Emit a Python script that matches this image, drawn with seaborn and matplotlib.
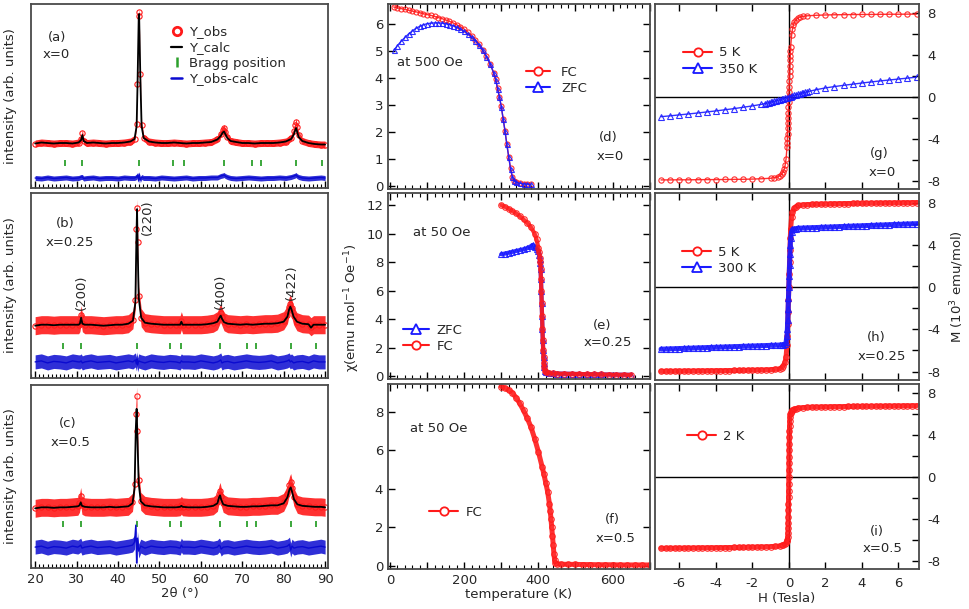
import matplotlib
matplotlib.use('Agg')
import matplotlib.pyplot as plt
import seaborn as sns
import numpy as np
from matplotlib.lines import Line2D
from matplotlib.ticker import MultipleLocator

sns.set_style('ticks')
plt.rcParams['font.family'] = ['DejaVu Sans']
plt.rcParams['axes.unicode_minus'] = False
plt.rcParams['mathtext.default'] = 'regular'
FS = 9.5

# ---------------- XRD data (intensity in arbitrary units) ----------------
tt_a = [20, 21.5, 23, 24.5, 26, 27.5, 29, 30.5, 31.1, 31.4,
        31.7, 32.5, 34, 35.5, 37, 38.5, 40, 41.5, 43, 44.0,
        44.5, 44.7, 45.0, 45.1, 45.4, 45.7, 46.2, 47.5, 49, 50.5,
        52, 53.5, 55, 56.5, 58, 59.5, 61, 62.5, 64.0, 64.8,
        65.3, 65.6, 65.9, 66.4, 67.2, 68.5, 70, 71.5, 73, 74.5,
        76, 77.5, 79, 80.5, 81.8, 82.5, 82.8, 83.0, 83.2, 83.6,
        84.5, 86, 87.5, 89, 90]
calc_a = [44.5, 45.5, 45, 44.5, 45, 45, 44.5, 45.5, 48, 53,
          47, 45, 45.5, 45, 44.5, 45, 45, 45.5, 46.5, 49,
          62, 100, 170, 174, 110, 62, 50, 46.5, 45.5, 45,
          45, 45.5, 45, 44.5, 45, 45, 45.5, 46, 48.5, 52,
          55.5, 56.5, 54, 50, 47, 46, 45, 45, 44.5, 45,
          45, 45, 45.5, 46.5, 49, 54, 58, 60, 57, 51,
          47, 45, 44, 43.5, 43.5]
obs_a = [44.5, 45.5, 45, 44.5, 45, 45, 44.5, 45.5, 49, 55,
         47, 45, 45.5, 45, 44.5, 45, 45, 45.5, 46.5, 49,
         64, 104, 172, 176, 114, 63, 50, 46.5, 45.5, 45,
         45, 45.5, 45, 44.5, 45, 45, 45.5, 46, 49, 54,
         58, 60, 56, 51, 47, 46, 45, 45, 44.5, 45,
         45, 45, 45.5, 46.5, 50, 57, 63, 66, 61, 53,
         47, 45, 44, 43.5, 43.5]
diff_a = [10, 9.5, 10.5, 9.5, 10, 10.5, 9.5, 10, 11, 11,
          9.5, 10, 10.5, 9.5, 10, 10, 9.5, 10.5, 10, 10,
          11, 13, 7, 14, 8, 11, 10, 10, 9.5, 10.5,
          10, 9.5, 10, 10.5, 9.5, 10, 10, 10.5, 10.5, 12,
          12.5, 13, 12, 11, 10, 9.5, 10, 10.5, 10, 9.5,
          10, 10, 10.5, 10, 11, 12, 12.5, 13, 12, 11,
          10, 9.5, 10, 10.5, 10]
bragg_a = [27.2, 31.4, 45.1, 53.4, 56.0, 65.6, 72.4, 74.6, 83.0, 89.2]

tt_b = [20, 21.5, 23, 24.5, 26, 27.5, 29, 30.5, 30.8, 31.1,
        31.4, 32, 33.5, 35, 36.5, 38, 39.5, 41, 42.5, 43.6,
        44.2, 44.45, 44.6, 44.75, 45.0, 45.6, 46.5, 48, 49.5, 51,
        52.5, 54, 55.0, 55.3, 55.6, 57, 58.5, 60, 61.5, 63,
        64.0, 64.5, 64.8, 65.1, 65.6, 66.5, 68, 69.5, 71, 72.5,
        74, 75.5, 77, 78.5, 80, 80.9, 81.3, 81.6, 81.9, 82.4,
        83.2, 84.5, 86, 86.6, 87.2, 88.5, 90]
calc_b = [52, 53, 53, 52.5, 53, 53, 53, 53, 54, 60,
          54, 53, 53, 52.5, 52, 52.5, 53, 53, 54, 57,
          75, 140, 168, 130, 80, 60, 55, 54, 53.5, 53,
          53, 53, 53, 56, 53, 53, 53, 53, 53.5, 54.5,
          56, 60, 62, 59, 55.5, 54, 53.5, 53, 53.5, 53,
          53.5, 54, 54, 54.5, 56, 61, 68, 71, 68, 61,
          56, 54, 53.5, 50, 53, 53, 53]
obs_b = [52, 53, 53, 52.5, 53, 53, 53, 53, 55, 63,
         55, 53, 53, 52.5, 52, 52.5, 53, 53, 54, 58,
         78, 148, 169, 135, 82, 60, 55, 54, 53.5, 53,
         53, 53, 53, 57, 53, 53, 53, 53, 53.5, 54.5,
         57, 62, 65, 61, 56, 54, 53.5, 53, 53.5, 53,
         53.5, 54, 54, 54.5, 57, 63, 71, 74, 70, 62,
         56, 54, 53.5, 51, 53, 53, 53]
diff_b = [16, 17, 15, 16.5, 16, 15, 17, 16, 16, 17,
          15, 16, 17, 15.5, 16, 16.5, 15, 16, 17, 16,
          18, 14, 19, 13, 17, 16, 15, 17, 16, 15.5,
          16.5, 16, 15, 17, 16, 16, 15.5, 17, 16, 15,
          16, 17, 18, 15, 16, 16.5, 15, 16, 17, 16,
          15.5, 16, 17, 15, 16, 17, 18, 16, 17, 15,
          16, 16.5, 15, 16, 17, 16, 16]
bragg_b = [26.8, 31.1, 44.6, 52.6, 55.2, 64.7, 71.2, 73.4, 81.8, 87.9]

tt_c = [20, 21.5, 23, 24.5, 26, 27.5, 29, 30.3, 30.7, 31.0,
        31.3, 32, 33.5, 35, 36.5, 38, 39.5, 41, 42.5, 43.5,
        44.0, 44.3, 44.5, 44.7, 45.0, 45.5, 46.5, 48, 49.5, 51,
        52.5, 54, 55.0, 55.3, 55.6, 57, 58.5, 60, 61.5, 63,
        64.0, 64.4, 64.65, 64.9, 65.4, 66.5, 68, 69.5, 71, 72.5,
        74, 75.5, 77, 78.5, 80, 80.9, 81.4, 81.7, 82.0, 82.5,
        83.3, 84.5, 86, 87.5, 89, 90]
calc_c = [60, 61, 61, 60.5, 61, 61, 61.5, 62, 63, 66,
          62.5, 61.5, 61, 61, 61, 61.5, 61, 61.5, 62, 65,
          80, 140, 160, 130, 85, 67, 63, 62, 61.5, 61,
          61, 61, 61.5, 62.5, 61.5, 61, 61, 61, 61.5, 62.5,
          65, 71, 73, 69, 64, 62.5, 62, 61.5, 61.5, 62,
          62, 62.5, 63, 63, 65, 71, 79, 81, 77, 69,
          64, 62.5, 62, 61.5, 61.5, 61]
obs_c = [60, 61, 61, 60.5, 61, 61, 61.5, 62, 65, 72,
         63, 61.5, 61, 61, 61, 61.5, 61, 61.5, 62, 66,
         84, 155, 173, 138, 88, 67, 63, 62, 61.5, 61,
         61, 61, 61.5, 63, 61.5, 61, 61, 61, 61.5, 62.5,
         66, 74, 77, 72, 65, 62.5, 62, 61.5, 61.5, 62,
         62, 62.5, 63, 63, 66, 74, 83, 86, 80, 71,
         64, 62.5, 62, 61.5, 61.5, 61]
diff_c = [21, 22, 20, 21.5, 21, 20, 22, 21, 22, 23,
          20, 21, 22, 20.5, 21, 21.5, 20, 21, 22, 23,
          26, 43, 5, 30, 17, 22, 20, 22, 21, 20.5,
          21.5, 21, 20, 23, 21, 21, 20.5, 22, 21, 20,
          21, 23, 22, 19, 21, 21.5, 20, 21, 22, 21,
          20.5, 21, 22, 20, 21, 22, 24, 18, 22, 20,
          21, 21.5, 20, 21, 22, 21]
bragg_c = [26.8, 31.1, 44.6, 52.6, 55.2, 64.7, 71.2, 73.4, 81.8, 87.9]

peak_labels = ['(200)', '(220)', '(400)', '(422)']
peak_tt = [31.1, 47.0, 64.7, 81.8]
peak_y = [85, 160, 86, 95]

# ---------------- susceptibility data ----------------
T_d = [10, 20, 30, 40, 50, 60, 70, 80, 90, 100,
       110, 120, 130, 140, 150, 160, 170, 180, 190, 200,
       210, 220, 230, 240, 250, 260, 270,
       280, 285, 290, 295, 300, 305, 310, 315, 320, 325, 330, 335, 340,
       350, 360, 370, 380]
fc_d = [6.63, 6.60, 6.57, 6.54, 6.51, 6.48, 6.45, 6.42, 6.38, 6.35,
        6.32, 6.28, 6.24, 6.20, 6.15, 6.10, 6.04, 5.97, 5.90, 5.81,
        5.70, 5.57, 5.42, 5.25, 5.04, 4.80, 4.53,
        4.18, 3.95, 3.62, 3.30, 2.95, 2.50, 2.05, 1.55, 1.09, 0.65, 0.33, 0.20, 0.15,
        0.11, 0.09, 0.08, 0.07]
zfc_d = [5.02, 5.20, 5.36, 5.50, 5.63, 5.74, 5.84, 5.91, 5.97, 6.01,
         6.03, 6.04, 6.04, 6.03, 6.01, 5.98, 5.94, 5.88, 5.81, 5.73,
         5.63, 5.51, 5.38, 5.22, 5.02, 4.79, 4.52,
         4.17, 3.94, 3.61, 3.29, 2.94, 2.49, 2.04, 1.54, 1.08, 0.64, 0.32, 0.19, 0.14,
         0.10, 0.08, 0.07, 0.06]

T_e_fc = [300, 310, 320, 330, 340, 350, 360, 370, 380, 390,
          395, 400, 402, 404, 405, 406, 407, 408, 409, 410,
          411, 412, 413, 414, 415, 416, 418, 420, 430, 440,
          450, 470, 490, 510, 530, 550, 570, 590, 610, 630, 650]
fc_e = [12.0, 11.88, 11.74, 11.58, 11.42, 11.22, 11.0, 10.75, 10.45, 10.0,
        9.6, 9.0, 8.7, 8.3, 8.0, 7.5, 6.8, 6.0, 5.1, 4.2,
        3.3, 2.5, 1.8, 1.3, 0.9, 0.6, 0.35, 0.25, 0.2, 0.18,
        0.17, 0.16, 0.15, 0.14, 0.13, 0.12, 0.11, 0.1, 0.09, 0.09, 0.08]
T_e_zfc = [300, 310, 320, 330, 340, 350, 360, 370, 380, 385,
           390, 395, 400, 402, 404, 405, 406, 407, 408, 409,
           410, 411, 412, 413, 414, 415, 416, 418, 420, 430,
           440, 450, 470, 490, 510, 530, 550, 570, 590, 610, 630, 650]
zfc_e = [8.55, 8.6, 8.66, 8.72, 8.78, 8.84, 8.9, 8.98, 9.12, 9.2,
         9.05, 8.9, 8.75, 8.5, 8.2, 7.95, 7.5, 6.8, 6.0, 5.1,
         4.2, 3.3, 2.5, 1.8, 1.3, 0.9, 0.6, 0.35, 0.25, 0.2,
         0.18, 0.17, 0.16, 0.15, 0.14, 0.13, 0.12, 0.11, 0.1, 0.09, 0.09, 0.08]

T_f = [300, 310, 320, 330, 340, 350, 360, 370, 380, 390,
       400, 410, 415, 420, 425, 430, 432, 434, 436, 438,
       440, 442, 444, 446, 450, 460, 480, 500, 520, 540,
       560, 580, 600, 620, 640, 660, 680, 700]
fc_f = [9.3, 9.22, 9.12, 8.97, 8.72, 8.42, 8.06, 7.66, 7.2, 6.6,
        5.92, 5.15, 4.75, 4.3, 3.85, 3.2, 2.85, 2.45, 2.0, 1.55,
        1.1, 0.6, 0.3, 0.15, 0.1, 0.09, 0.08, 0.08, 0.07, 0.07,
        0.06, 0.06, 0.06, 0.05, 0.05, 0.05, 0.05, 0.05]

# ---------------- magnetization data (10^3 emu/mol) ----------------
H_g5 = [-7, -6.5, -6, -5.5, -5, -4.5, -4, -3.5, -3, -2.5, -2, -1.5, -1,
        -0.8, -0.6, -0.5, -0.4, -0.3, -0.25, -0.2, -0.15, -0.1,
        -0.09, -0.08, -0.07, -0.06, -0.05, -0.04, -0.03, -0.02, -0.01, 0,
        0.01, 0.02, 0.03, 0.04, 0.05, 0.06, 0.07, 0.08, 0.09,
        0.1, 0.15, 0.2, 0.25, 0.3, 0.4, 0.5, 0.6, 0.8,
        1, 1.5, 2, 2.5, 3, 3.5, 4, 4.5, 5, 5.5, 6, 6.5, 7]
M_g5 = [-7.93, -7.93, -7.92, -7.92, -7.91, -7.9, -7.9, -7.89, -7.88, -7.87, -7.85, -7.82, -7.77,
        -7.72, -7.65, -7.55, -7.4, -7.15, -6.9, -6.5, -5.9, -4.8,
        -4.4, -3.95, -3.5, -3.0, -2.5, -2.0, -1.5, -1.0, -0.5, 0,
        0.5, 1.0, 1.5, 2.0, 2.5, 3.0, 3.5, 3.95, 4.4,
        4.8, 5.9, 6.5, 6.9, 7.15, 7.4, 7.55, 7.65, 7.72,
        7.77, 7.82, 7.85, 7.87, 7.88, 7.89, 7.9, 7.9, 7.91, 7.92, 7.92, 7.93, 7.93]
H_g350 = [-7, -6.5, -6, -5.5, -5, -4.5, -4, -3.5, -3, -2.5, -2, -1.5,
          -1.3, -1.2, -1.1, -1.0, -0.9, -0.8, -0.7, -0.6, -0.5, -0.4, -0.3, -0.2, -0.1,
          0, 0.1, 0.2, 0.3, 0.4, 0.5, 0.6, 0.7, 0.8, 0.9, 1.0, 1.1,
          1.5, 2, 2.5, 3, 3.5, 4, 4.5, 5, 5.5, 6, 6.5, 7]
M_g350 = [-1.88, -1.8, -1.71, -1.62, -1.53, -1.43, -1.33, -1.22, -1.11, -0.98, -0.85, -0.7,
          -0.62, -0.58, -0.54, -0.5, -0.46, -0.41, -0.36, -0.31, -0.26, -0.21, -0.16, -0.11, -0.05,
          0, 0.05, 0.11, 0.16, 0.21, 0.26, 0.31, 0.36, 0.41, 0.46, 0.5, 0.54,
          0.7, 0.87, 1.0, 1.12, 1.23, 1.34, 1.44, 1.54, 1.63, 1.72, 1.81, 1.9]

H_h = [-7, -6.75, -6.5, -6.25, -6, -5.75, -5.5, -5.25, -5, -4.75, -4.5, -4.25, -4,
       -3.75, -3.5, -3.25, -3, -2.75, -2.5, -2.25, -2, -1.75, -1.5, -1.25, -1, -0.75, -0.5,
       -0.4, -0.3, -0.2, -0.15, -0.1, -0.08, -0.06, -0.04, -0.02, 0,
       0.02, 0.04, 0.06, 0.08, 0.1, 0.15, 0.2, 0.3, 0.4,
       0.5, 0.75, 1, 1.25, 1.5, 1.75, 2, 2.25, 2.5, 2.75, 3, 3.25, 3.5,
       3.75, 4, 4.25, 4.5, 4.75, 5, 5.25, 5.5, 5.75, 6, 6.25, 6.5, 6.75, 7]
M_h5 = [-7.98, -7.98, -7.97, -7.97, -7.96, -7.96, -7.95, -7.95, -7.94, -7.94, -7.93, -7.93, -7.92,
        -7.92, -7.91, -7.91, -7.9, -7.9, -7.89, -7.88, -7.87, -7.86, -7.85, -7.84, -7.82, -7.79, -7.75,
        -7.62, -7.45, -7.1, -6.6, -5.5, -4.6, -3.5, -2.4, -1.2, 0,
        1.2, 2.4, 3.5, 4.6, 5.5, 6.6, 7.1, 7.45, 7.62,
        7.72, 7.77, 7.8, 7.82, 7.84, 7.85, 7.86, 7.87, 7.88, 7.89, 7.9, 7.9, 7.91,
        7.92, 7.92, 7.93, 7.94, 7.94, 7.95, 7.96, 7.96, 7.97, 7.97, 7.98, 7.98, 7.99, 8.0]
M_h300 = [-5.88, -5.87, -5.85, -5.84, -5.82, -5.81, -5.79, -5.78, -5.76, -5.75, -5.73, -5.72, -5.7,
          -5.69, -5.67, -5.66, -5.64, -5.63, -5.61, -5.6, -5.58, -5.57, -5.55, -5.54, -5.52, -5.51, -5.49,
          -5.47, -5.45, -5.42, -5.2, -4.6, -4.0, -3.1, -2.1, -1.0, 0,
          1.0, 2.1, 3.1, 4.0, 4.6, 5.2, 5.45, 5.5, 5.53,
          5.57, 5.58, 5.6, 5.62, 5.63, 5.65, 5.67, 5.68, 5.7, 5.72, 5.73, 5.75, 5.77,
          5.78, 5.8, 5.82, 5.83, 5.85, 5.87, 5.88, 5.9, 5.92, 5.93, 5.95, 5.97, 5.98, 6.0]

H_i = [-7, -6.75, -6.5, -6.25, -6, -5.75, -5.5, -5.25, -5, -4.75, -4.5, -4.25, -4,
       -3.75, -3.5, -3.25, -3, -2.75, -2.5, -2.25, -2, -1.75, -1.5, -1.25, -1, -0.75, -0.5,
       -0.4, -0.3, -0.2, -0.15, -0.1, -0.08, -0.06, -0.05,
       -0.04, -0.035, -0.03, -0.025, -0.02, -0.015, -0.01, -0.005, 0,
       0.005, 0.01, 0.015, 0.02, 0.025, 0.03, 0.035, 0.04,
       0.05, 0.06, 0.08, 0.1, 0.15, 0.2, 0.3, 0.4,
       0.5, 0.75, 1, 1.25, 1.5, 1.75, 2, 2.25, 2.5, 2.75, 3, 3.25, 3.5,
       3.75, 4, 4.25, 4.5, 4.75, 5, 5.25, 5.5, 5.75, 6, 6.25, 6.5, 6.75, 7]
M_i2 = [-6.82, -6.82, -6.81, -6.81, -6.8, -6.8, -6.79, -6.79, -6.78, -6.78, -6.77, -6.77, -6.76,
        -6.76, -6.75, -6.75, -6.74, -6.74, -6.73, -6.72, -6.71, -6.7, -6.69, -6.68, -6.66, -6.64, -6.6,
        -6.55, -6.5, -6.4, -6.3, -6.15, -6.0, -5.7, -5.4,
        -4.9, -4.4, -3.8, -3.2, -2.6, -1.95, -1.3, -0.65, 0,
        0.65, 1.3, 1.95, 2.6, 3.2, 3.8, 4.4, 4.9,
        5.4, 5.7, 6.0, 6.15, 6.3, 6.4, 6.5, 6.55,
        6.6, 6.64, 6.66, 6.68, 6.69, 6.7, 6.71, 6.72, 6.73, 6.74, 6.74, 6.75, 6.75,
        6.76, 6.76, 6.77, 6.77, 6.78, 6.78, 6.79, 6.79, 6.8, 6.8, 6.81, 6.81, 6.82, 6.83]

# ---------------- figure ----------------
RED = '#ff1a1a'
BLUE = '#1a1aff'
DBLUE = '#0a0ad0'
GREEN = '#2ca02c'
SPINE = '#4a4a4a'
W, H = 969, 609
fig = plt.figure(figsize=(W / 100, H / 100), dpi=100)


def add_ax(x0, y0, x1, y1):
    ax = fig.add_axes([x0 / W, 1 - y1 / H, (x1 - x0) / W, (y1 - y0) / H])
    for s in ax.spines.values():
        s.set_visible(True)
        s.set_color(SPINE)
        s.set_linewidth(1.3)
    return ax


def ftext(x, y, s, **kw):
    fig.text(x / W, 1 - y / H, s, ha='center', va='center', fontsize=FS, **kw)


def flegend(ax, handles, labels, x, y, hl, tp, sp=0.25):
    ax.legend(handles, labels, loc='upper left', bbox_to_anchor=(x / W, 1 - (y - 7.5) / H),
              bbox_transform=fig.transFigure, frameon=False, fontsize=FS,
              borderpad=0, borderaxespad=0, handlelength=hl, handletextpad=tp,
              labelspacing=sp)


# ---- XRD column ----
axA = add_ax(31, 4, 328, 188)
axB = add_ax(31, 193, 328, 378)
axC = add_ax(31, 385, 328, 568)
xrd_sets = [(axA, tt_a, calc_a, obs_a, diff_a, bragg_a, 24.7, 3.5, 2.5),
            (axB, tt_b, calc_b, obs_b, diff_b, bragg_b, 32, 9, 7),
            (axC, tt_c, calc_c, obs_c, diff_c, bragg_c, 44.7, 9, 7)]
for ax, tt, calc, obs, diff, bragg, yb, so, sd in xrd_sets:
    ob = np.array(obs, float)
    df = np.array(diff, float)
    ax.fill_between(tt, ob - so, ob + so, color=RED, alpha=0.9, lw=0)
    sns.lineplot(x=tt, y=obs, ax=ax, sort=False, estimator=None, color=RED, linewidth=0,
                 marker='o', markersize=3.8, markerfacecolor='none',
                 markeredgecolor=RED, markeredgewidth=0.8)
    sns.lineplot(x=tt, y=calc, ax=ax, sort=False, estimator=None, color='black', linewidth=1.3)
    ax.fill_between(tt, df - sd, df + sd, color=DBLUE, alpha=0.85, lw=0)
    sns.lineplot(x=tt, y=diff, ax=ax, sort=False, estimator=None, color=DBLUE, linewidth=1.0)
    sns.scatterplot(x=bragg, y=[yb] * len(bragg), ax=ax, marker='|', s=22, color=GREEN,
                    linewidth=1.3)
    ax.set_xlim(19.0, 90.7)
    ax.set_ylim(0, 184)
    ax.set_yticks([])
    ax.xaxis.set_major_locator(MultipleLocator(10))
    ax.xaxis.set_minor_locator(MultipleLocator(1))
    ax.tick_params(axis='x', which='major', direction='in', length=5, width=1, color='black',
                   labelsize=FS, bottom=True, top=False)
    ax.tick_params(axis='x', which='minor', direction='in', length=3, width=0.8, color='black',
                   bottom=True, top=False)
    ax.set_ylabel('intensity (arb. units)', fontsize=FS)
    ax.yaxis.set_label_coords(-0.048, 0.5)
    ax.set_xlabel('')
for ax in (axA, axB):
    ax.tick_params(axis='x', labelbottom=False)
axC.set_xlabel('2θ (°)', fontsize=FS, labelpad=1)

for lab, xp, yp in zip(peak_labels, peak_tt, peak_y):
    axB.text(xp, yp, lab, rotation=90, ha='center', va='center', fontsize=FS)

xrd_handles = [Line2D([], [], ls='none', marker='o', ms=6, mfc='none', mec=RED, mew=2),
               Line2D([], [], color='black', lw=1.6),
               Line2D([], [], ls='none', marker='|', ms=7, mec=GREEN, mew=1.8),
               Line2D([], [], color=DBLUE, lw=1.8)]
flegend(axA, xrd_handles, ['Y_obs', 'Y_calc', 'Bragg position', 'Y_obs-calc'],
        171, 33, 0.85, 0.5, sp=0.2)

ftext(57, 37, '(a)'); ftext(56, 55, 'x=0')
ftext(65, 223, '(b)'); ftext(70, 242, 'x=0.25')
ftext(68, 423, '(c)'); ftext(71, 442, 'x=0.5')

# ---- susceptibility column ----
axD = add_ax(388, 4, 650, 189)
axE = add_ax(388, 193, 650, 379)
axF = add_ax(388, 384, 650, 569)


def chi_line(ax, x, y, color, marker, ms, lw):
    sns.lineplot(x=x, y=y, ax=ax, sort=False, estimator=None, color=color, linewidth=lw,
                 marker=marker, markersize=ms, markerfacecolor='none',
                 markeredgecolor=color, markeredgewidth=0.8, alpha=0.9)


chi_line(axD, T_d, fc_d, RED, 'o', 3.6, 1.0)
chi_line(axD, T_d, zfc_d, BLUE, '^', 3.6, 1.0)
chi_line(axE, T_e_zfc, zfc_e, BLUE, '^', 4, 3.0)
chi_line(axE, T_e_fc, fc_e, RED, 'o', 4, 3.0)
chi_line(axF, T_f, fc_f, RED, 'o', 4, 3.6)

for ax, yl, yt in [(axD, (-0.11, 6.74), 1), (axE, (-0.21, 12.85), 2), (axF, (-0.16, 9.43), 2)]:
    ax.set_xlim(-5.4, 701)
    ax.set_ylim(*yl)
    ax.yaxis.set_major_locator(MultipleLocator(yt))
    ax.xaxis.set_major_locator(MultipleLocator(100))
    ax.xaxis.set_minor_locator(MultipleLocator(20))
    ax.tick_params(which='major', direction='in', length=5, width=1, color='black',
                   labelsize=FS, top=True, right=True, bottom=True, left=True)
    ax.tick_params(which='minor', direction='in', length=3, width=0.8, color='black',
                   top=True, bottom=True)
    ax.set_xlabel('')
    ax.set_ylabel('')
axF.set_xticks([0, 100, 200, 300, 400, 500, 600, 700])
axF.set_xticklabels(['0', '', '200', '', '400', '', '600', ''])
axD.tick_params(axis='x', labelbottom=False)
axE.tick_params(axis='x', labelbottom=False)
axF.set_xlabel('temperature (K)', fontsize=FS, labelpad=1)
axE.set_ylabel('χ(emu mol$^{-1}$ Oe$^{-1}$)', fontsize=FS)
axE.yaxis.set_label_coords(-0.1, 0.38)

hFC = Line2D([], [], color=RED, lw=1.5, marker='o', ms=6, mfc='white', mec=RED, mew=1.3)
hZFC = Line2D([], [], color=BLUE, lw=1.5, marker='^', ms=6.5, mfc='white', mec=BLUE, mew=1.3)
flegend(axD, [hFC, hZFC], ['FC', 'ZFC'], 526, 73, 1.8, 0.85)
flegend(axE, [hZFC, hFC], ['ZFC', 'FC'], 403, 331, 1.95, 0.6)
flegend(axF, [hFC], ['FC'], 429, 513, 2.2, 0.6)

ftext(430, 62, 'at 500 Oe'); ftext(608, 138, '(d)'); ftext(610, 157, 'x=0')
ftext(442, 233, 'at 50 Oe'); ftext(602, 325, '(e)'); ftext(608, 343, 'x=0.25')
ftext(439, 428, 'at 50 Oe'); ftext(612, 520, '(f)'); ftext(616, 538, 'x=0.5')

# ---- magnetization column ----
axG = add_ax(655, 4, 919, 189)
axH = add_ax(655, 193, 919, 380)
axI = add_ax(655, 384, 919, 569)
for ax in (axG, axH, axI):
    ax.axhline(0, color='black', lw=1.0, zorder=0)
    ax.axvline(0, color='black', lw=1.0, zorder=0)

chi_line(axG, H_g5, M_g5, RED, 'o', 3.8, 1.0)
chi_line(axG, H_g350, M_g350, BLUE, '^', 3.8, 1.0)
chi_line(axH, H_h, M_h5, RED, 'o', 4, 3.6)
chi_line(axH, H_h, M_h300, BLUE, '^', 4, 3.6)
chi_line(axI, H_i, M_i2, RED, 'o', 4, 3.6)

for ax in (axG, axH, axI):
    ax.set_xlim(-7.33, 7.13)
    ax.set_ylim(-8.8, 8.9)
    ax.set_xticks([-6, -4, -2, 0, 2, 4, 6])
    ax.set_yticks([-8, -6, -4, -2, 0, 2, 4, 6, 8])
    ax.set_yticklabels(['-8', '', '-4', '', '0', '', '4', '', '8'])
    ax.yaxis.tick_right()
    ax.tick_params(which='major', direction='in', length=5, width=1, color='black',
                   labelsize=FS, top=True, bottom=True, left=False, right=True, pad=6)
    ax.set_xlabel('')
    ax.set_ylabel('')
axG.tick_params(axis='x', labelbottom=False)
axH.tick_params(axis='x', labelbottom=False)
axI.set_xlabel('H (Tesla)', fontsize=FS, labelpad=1)
axH.set_ylabel('M (10$^3$ emu/mol)', fontsize=FS, rotation=90)
axH.yaxis.set_label_position('right')
axH.yaxis.label.set_va('center')
axH.yaxis.set_label_coords(1.144, 0.497)

h5 = Line2D([], [], color=RED, lw=1.5, marker='o', ms=6, mfc='white', mec=RED, mew=1.3)
hB = Line2D([], [], color=BLUE, lw=1.5, marker='^', ms=6.5, mfc='white', mec=BLUE, mew=1.3)
flegend(axG, [h5, hB], ['5 K', '350 K'], 683, 54, 2.2, 0.5)
flegend(axH, [h5, hB], ['5 K', '300 K'], 682, 253, 2.2, 0.55)
flegend(axI, [h5], ['2 K'], 687, 437, 2.2, 0.5)

ftext(879, 153, '(g)'); ftext(882, 172, 'x=0')
ftext(876, 338, '(h)'); ftext(882, 356, 'x=0.25')
ftext(877, 532, '(i)'); ftext(883, 549, 'x=0.5')

fig.savefig('out.png', dpi=100)
